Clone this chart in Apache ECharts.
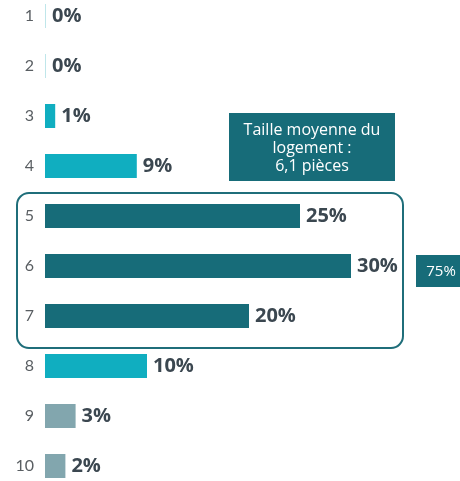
<!DOCTYPE html>
<html>
<head>
<meta charset="utf-8">
<script src="https://cdn.jsdelivr.net/npm/echarts@6/dist/echarts.min.js"></script>
<style>
  html, body { margin: 0; padding: 0; background: #fff; }
  #chart { width: 460px; height: 481px; }
</style>
</head>
<body>
<div id="chart"></div>
<script>
// Nombre de pièces du logement et part des ménages (%)
const rooms = ['1', '2', '3', '4', '5', '6', '7', '8', '9', '10'];
const shares = [0, 0, 1, 9, 25, 30, 20, 10, 3, 2];
const groups = ['light', 'light', 'cyan', 'cyan', 'dark', 'dark', 'dark', 'cyan', 'grey', 'grey'];
const groupTotalLabel = '75%';
const averageNote = 'Taille moyenne du\nlogement :\n6,1 pièces';

const palette = {
  light: '#bfe6ea',
  cyan: '#10aec0',
  dark: '#176c79',
  grey: '#82a6ae'
};

const chart = echarts.init(document.getElementById('chart'));

chart.setOption({
  animation: false,
  grid: {
    left: 45, top: -9, width: 408, height: 500,
    containLabel: false, outerBoundsMode: 'none'
  },
  xAxis: {
    type: 'value', min: 0, max: 40, show: false
  },
  yAxis: {
    type: 'category',
    data: rooms,
    inverse: true,
    axisLine: { show: false },
    axisTick: { show: false },
    axisLabel: {
      margin: 11,
      fontFamily: 'Lato',
      fontSize: 16,
      color: '#595e62'
    }
  },
  series: [{
    type: 'bar',
    barWidth: 24,
    barMinHeight: 1,
    data: shares.map((v, i) => ({
      value: v,
      itemStyle: { color: palette[groups[i]] }
    })),
    label: {
      show: true,
      position: 'right',
      distance: 6,
      formatter: '{c}%',
      fontFamily: 'Open Sans',
      fontWeight: 'bold',
      fontSize: 20,
      color: '#3b4750'
    }
  }],
  graphic: [
    {
      type: 'rect',
      shape: { x: 17, y: 193, width: 386, height: 155, r: 12 },
      style: { fill: 'none', stroke: '#1f6e7a', lineWidth: 2 }
    },
    {
      type: 'group',
      left: 229, top: 113,
      children: [
        { type: 'rect', shape: { x: 0, y: 0, width: 166, height: 68 }, style: { fill: '#176c79' } },
        {
          type: 'text', x: 83, y: 35,
          style: {
            text: averageNote, fill: '#ffffff', align: 'center', verticalAlign: 'middle',
            fontFamily: 'Open Sans', fontSize: 16, lineHeight: 18
          }
        }
      ]
    },
    {
      type: 'group',
      left: 416, top: 255,
      children: [
        { type: 'rect', shape: { x: 0, y: 0, width: 44, height: 32 }, style: { fill: '#176c79' } },
        {
          type: 'text', x: 25, y: 17,
          style: {
            text: groupTotalLabel, fill: '#ffffff', align: 'center', verticalAlign: 'middle',
            fontFamily: 'Open Sans', fontSize: 15
          }
        }
      ]
    }
  ]
});
</script>
</body>
</html>
